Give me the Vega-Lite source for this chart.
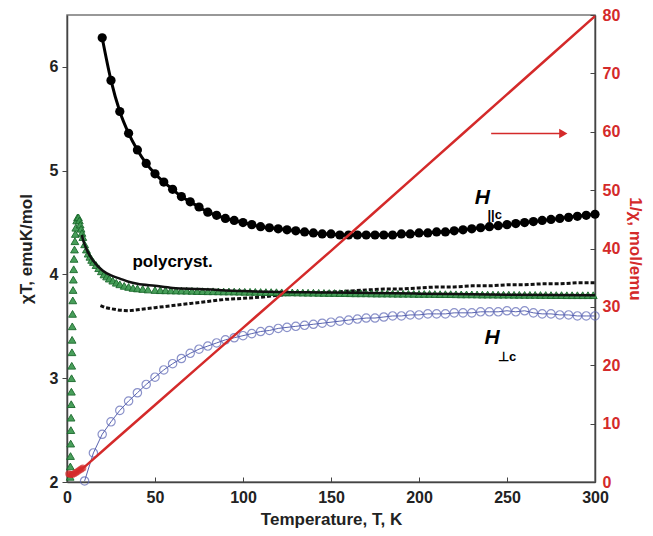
{
  "$schema": "https://vega.github.io/schema/vega-lite/v6.json",
  "width": 528,
  "height": 467,
  "autosize": "none",
  "padding": {"left": 67, "top": 15, "right": 58, "bottom": 54},
  "config": {
    "font": "Liberation Sans",
    "view": {"stroke": "#777", "strokeWidth": 1.5},
    "axis": {
      "grid": false,
      "labelFontWeight": "bold",
      "labelFontSize": 16,
      "labelColor": "#222",
      "titleFontSize": 17,
      "titleFontWeight": "bold",
      "titleColor": "#222",
      "domainColor": "#444",
      "tickColor": "#444",
      "domainWidth": 1.5
    }
  },
  "datasets": {
    "hpar": [
      {"T":20,"v":6.28},{"T":25,"v":5.87},{"T":30,"v":5.57},{"T":35,"v":5.36},{"T":40,"v":5.2},{"T":45,"v":5.07},{"T":50,"v":4.97},{"T":55,"v":4.89},{"T":60,"v":4.82},{"T":65,"v":4.75},{"T":70,"v":4.7},{"T":75,"v":4.65},{"T":80,"v":4.6},{"T":85,"v":4.57},{"T":90,"v":4.54},{"T":95,"v":4.52},{"T":100,"v":4.5},{"T":105,"v":4.48},{"T":110,"v":4.46},{"T":115,"v":4.45},{"T":120,"v":4.44},{"T":125,"v":4.43},{"T":130,"v":4.42},{"T":135,"v":4.41},{"T":140,"v":4.4},{"T":145,"v":4.39},{"T":150,"v":4.39},{"T":155,"v":4.38},{"T":160,"v":4.38},{"T":165,"v":4.38},{"T":170,"v":4.38},{"T":175,"v":4.38},{"T":180,"v":4.38},{"T":185,"v":4.38},{"T":190,"v":4.39},{"T":195,"v":4.39},{"T":200,"v":4.4},{"T":205,"v":4.4},{"T":210,"v":4.41},{"T":215,"v":4.41},{"T":220,"v":4.42},{"T":225,"v":4.43},{"T":230,"v":4.44},{"T":235,"v":4.45},{"T":240,"v":4.46},{"T":245,"v":4.47},{"T":250,"v":4.48},{"T":255,"v":4.49},{"T":260,"v":4.5},{"T":265,"v":4.51},{"T":270,"v":4.52},{"T":275,"v":4.53},{"T":280,"v":4.54},{"T":285,"v":4.55},{"T":290,"v":4.56},{"T":295,"v":4.57},{"T":300,"v":4.58}
    ],
    "hperp": [
      {"T":10,"v":2.01},{"T":15,"v":2.28},{"T":20,"v":2.46},{"T":25,"v":2.58},{"T":30,"v":2.69},{"T":35,"v":2.78},{"T":40,"v":2.86},{"T":45,"v":2.94},{"T":50,"v":3.01},{"T":55,"v":3.08},{"T":60,"v":3.14},{"T":65,"v":3.19},{"T":70,"v":3.24},{"T":75,"v":3.28},{"T":80,"v":3.31},{"T":85,"v":3.34},{"T":90,"v":3.37},{"T":95,"v":3.39},{"T":100,"v":3.41},{"T":105,"v":3.43},{"T":110,"v":3.45},{"T":115,"v":3.46},{"T":120,"v":3.48},{"T":125,"v":3.49},{"T":130,"v":3.5},{"T":135,"v":3.51},{"T":140,"v":3.52},{"T":145,"v":3.53},{"T":150,"v":3.54},{"T":155,"v":3.55},{"T":160,"v":3.56},{"T":165,"v":3.57},{"T":170,"v":3.58},{"T":175,"v":3.58},{"T":180,"v":3.59},{"T":185,"v":3.6},{"T":190,"v":3.6},{"T":195,"v":3.61},{"T":200,"v":3.61},{"T":205,"v":3.62},{"T":210,"v":3.62},{"T":215,"v":3.62},{"T":220,"v":3.63},{"T":225,"v":3.63},{"T":230,"v":3.63},{"T":235,"v":3.64},{"T":240,"v":3.64},{"T":245,"v":3.64},{"T":250,"v":3.65},{"T":255,"v":3.64},{"T":260,"v":3.65},{"T":265,"v":3.63},{"T":270,"v":3.62},{"T":275,"v":3.62},{"T":280,"v":3.61},{"T":285,"v":3.61},{"T":290,"v":3.6},{"T":295,"v":3.6},{"T":300,"v":3.6}
    ],
    "dash": [
      {"T":19,"v":3.7},{"T":22,"v":3.68},{"T":25,"v":3.67},{"T":30,"v":3.655},{"T":35,"v":3.65},{"T":40,"v":3.66},{"T":45,"v":3.67},{"T":50,"v":3.68},{"T":60,"v":3.7},{"T":70,"v":3.72},{"T":80,"v":3.74},{"T":90,"v":3.76},{"T":100,"v":3.77},{"T":110,"v":3.78},{"T":120,"v":3.8},{"T":130,"v":3.81},{"T":140,"v":3.82},{"T":150,"v":3.83},{"T":160,"v":3.84},{"T":170,"v":3.85},{"T":180,"v":3.86},{"T":190,"v":3.86},{"T":200,"v":3.87},{"T":210,"v":3.88},{"T":220,"v":3.88},{"T":230,"v":3.89},{"T":240,"v":3.89},{"T":250,"v":3.9},{"T":260,"v":3.9},{"T":270,"v":3.91},{"T":280,"v":3.91},{"T":290,"v":3.92},{"T":300,"v":3.92}
    ],
    "poly": [
      {"T":1.8,"v":2.05},{"T":1.9,"v":2.15},{"T":2.0,"v":2.25},{"T":2.1,"v":2.37},{"T":2.2,"v":2.5},{"T":2.3,"v":2.62},{"T":2.4,"v":2.75},{"T":2.5,"v":2.87},{"T":2.6,"v":3.0},{"T":2.7,"v":3.12},{"T":2.8,"v":3.25},{"T":2.9,"v":3.37},{"T":3.0,"v":3.5},{"T":3.15,"v":3.62},{"T":3.3,"v":3.75},{"T":3.45,"v":3.85},{"T":3.6,"v":3.95},{"T":3.8,"v":4.05},{"T":4.0,"v":4.15},{"T":4.25,"v":4.24},{"T":4.5,"v":4.32},{"T":4.75,"v":4.39},{"T":5.0,"v":4.45},{"T":5.5,"v":4.52},{"T":6.0,"v":4.55},{"T":6.5,"v":4.55},{"T":7.0,"v":4.52},{"T":7.5,"v":4.48},{"T":8,"v":4.44},{"T":8.5,"v":4.4},{"T":9,"v":4.36},{"T":10,"v":4.29},{"T":11,"v":4.24},{"T":12,"v":4.2},{"T":13,"v":4.17},{"T":14,"v":4.14},{"T":15,"v":4.12},{"T":16.5,"v":4.09},{"T":18,"v":4.06},{"T":19.5,"v":4.03},{"T":21,"v":4.0},{"T":22.5,"v":3.98},{"T":24,"v":3.96},{"T":26,"v":3.94},{"T":28,"v":3.92},{"T":30,"v":3.905},{"T":32.5,"v":3.89},{"T":35,"v":3.88},{"T":37.5,"v":3.87},{"T":40,"v":3.865},{"T":43,"v":3.86},{"T":46,"v":3.855},{"T":50,"v":3.85},
      {"T":53,"v":3.848},{"T":56,"v":3.847},{"T":59,"v":3.846},{"T":62,"v":3.845},{"T":65,"v":3.844},{"T":68,"v":3.843},{"T":71,"v":3.842},{"T":74,"v":3.84},{"T":77,"v":3.839},{"T":80,"v":3.838},{"T":83,"v":3.838},{"T":86,"v":3.837},{"T":89,"v":3.836},{"T":92,"v":3.836},{"T":95,"v":3.835},{"T":98,"v":3.834},{"T":101,"v":3.833},{"T":104,"v":3.833},{"T":107,"v":3.832},{"T":110,"v":3.831},{"T":113,"v":3.83},{"T":116,"v":3.83},{"T":119,"v":3.829},{"T":122,"v":3.828},{"T":125,"v":3.827},{"T":128,"v":3.827},{"T":131,"v":3.826},{"T":134,"v":3.825},{"T":137,"v":3.824},{"T":140,"v":3.824},{"T":143,"v":3.823},{"T":146,"v":3.822},{"T":149,"v":3.821},{"T":152,"v":3.821},{"T":155,"v":3.82},{"T":158,"v":3.82},{"T":161,"v":3.819},{"T":164,"v":3.818},{"T":167,"v":3.818},{"T":170,"v":3.818},{"T":173,"v":3.817},{"T":176,"v":3.816},{"T":179,"v":3.816},{"T":182,"v":3.816},{"T":185,"v":3.815},{"T":188,"v":3.814},{"T":191,"v":3.814},{"T":194,"v":3.814},{"T":197,"v":3.813},{"T":200,"v":3.812},{"T":203,"v":3.812},{"T":206,"v":3.812},{"T":209,"v":3.811},{"T":212,"v":3.81},{"T":215,"v":3.81},{"T":218,"v":3.81},{"T":221,"v":3.809},{"T":224,"v":3.808},{"T":227,"v":3.808},{"T":230,"v":3.808},{"T":233,"v":3.807},{"T":236,"v":3.806},{"T":239,"v":3.806},{"T":242,"v":3.806},{"T":245,"v":3.805},{"T":248,"v":3.805},{"T":251,"v":3.805},{"T":254,"v":3.804},{"T":257,"v":3.804},{"T":260,"v":3.803},{"T":263,"v":3.803},{"T":266,"v":3.803},{"T":269,"v":3.802},{"T":272,"v":3.802},{"T":275,"v":3.801},{"T":278,"v":3.801},{"T":281,"v":3.801},{"T":284,"v":3.8},{"T":287,"v":3.8},{"T":290,"v":3.8},{"T":293,"v":3.8},{"T":296,"v":3.8},{"T":299,"v":3.8}
    ],
    "polyfit": [
      {"T":8.5,"v":4.38},{"T":9,"v":4.34},{"T":10,"v":4.29},{"T":12,"v":4.21},{"T":15,"v":4.13},{"T":20,"v":4.04},{"T":25,"v":3.99},{"T":30,"v":3.96},{"T":35,"v":3.93},{"T":40,"v":3.91},{"T":50,"v":3.89},{"T":60,"v":3.87},{"T":75,"v":3.86},{"T":100,"v":3.84},{"T":150,"v":3.825},{"T":200,"v":3.815},{"T":250,"v":3.805},{"T":300,"v":3.8}
    ],
    "inv": [
      {"T":0,"v":1.0},{"T":2,"v":1.2},{"T":5,"v":1.6},{"T":10,"v":2.6},{"T":25,"v":6.6},{"T":50,"v":13.2},{"T":75,"v":19.8},{"T":100,"v":26.4},{"T":125,"v":33.0},{"T":150,"v":39.6},{"T":175,"v":46.3},{"T":200,"v":53.0},{"T":225,"v":59.7},{"T":250,"v":66.4},{"T":275,"v":73.1},{"T":300,"v":79.8}
    ],
    "invpts": [
      {"T":1,"v":1.4},{"T":2,"v":1.3},{"T":3,"v":1.3},{"T":4,"v":1.4},{"T":5,"v":1.6},{"T":6,"v":1.8},{"T":7,"v":2.0},{"T":8,"v":2.2},{"T":9,"v":2.4}
    ],
    "arrow": [{"T":241,"T2":281,"v":59.7}],
    "arrowhead": [{"T":282,"v":59.7}],
    "labelsBig": [
      {"T":236,"v":4.74,"label":"H"},
      {"T":241.5,"v":3.39,"label":"H"}
    ],
    "labelsSub": [
      {"T":243,"v":4.57,"label":"||c"},
      {"T":250,"v":3.2,"label":"⊥c"}
    ],
    "labelsPoly": [
      {"T":60,"v":4.12,"label":"polycryst."}
    ]
  },
  "layer": [
    {
      "encoding": {
        "x": {"field": "T", "type": "quantitative", "scale": {"domain": [0, 300], "nice": false},
              "axis": {"values": [0,50,100,150,200,250,300], "title": "Temperature, T, K", "tickSize": -5, "labelPadding": 12, "titlePadding": 6, "labelFlush": false}},
        "y": {"field": "v", "type": "quantitative", "scale": {"domain": [2, 6.5], "nice": false},
              "axis": {"values": [2,3,4,5,6], "title": "χT, emuK/mol", "tickSize": 5, "labelPadding": 4, "titlePadding": 14, "labelFlush": false}}
      },
      "layer": [
        {"data": {"name": "hperp"}, "mark": {"type": "line", "color": "#5a64b0", "strokeWidth": 1}},
        {"data": {"name": "hperp"}, "mark": {"type": "point", "shape": "circle", "filled": false, "stroke": "#5a64b4", "strokeWidth": 1.2, "size": 70}},
        {"data": {"name": "dash"}, "mark": {"type": "line", "color": "#111", "strokeWidth": 3, "strokeDash": [4, 2]}},
        {"data": {"name": "poly"}, "mark": {"type": "point", "shape": "triangle-up", "filled": true, "fill": "#3f9a52", "stroke": "#1a6a2c", "strokeWidth": 1, "size": 60, "opacity": 0.95}},
        {"data": {"name": "polyfit"}, "mark": {"type": "line", "color": "#111", "strokeWidth": 2.5, "interpolate": "monotone"}},
        {"data": {"name": "hpar"}, "mark": {"type": "line", "color": "#000", "strokeWidth": 3, "interpolate": "monotone"}},
        {"data": {"name": "hpar"}, "mark": {"type": "point", "shape": "circle", "filled": true, "color": "#000", "size": 85, "opacity": 1}},
        {"data": {"name": "labelsBig"}, "mark": {"type": "text", "fontSize": 21, "fontWeight": "bold", "fontStyle": "italic", "color": "#000"}, "encoding": {"text": {"field": "label"}}},
        {"data": {"name": "labelsSub"}, "mark": {"type": "text", "fontSize": 13, "fontWeight": "bold", "color": "#000"}, "encoding": {"text": {"field": "label"}}},
        {"data": {"name": "labelsPoly"}, "mark": {"type": "text", "fontSize": 17, "fontWeight": "bold", "color": "#000"}, "encoding": {"text": {"field": "label"}}}
      ]
    },
    {
      "encoding": {
        "x": {"field": "T", "type": "quantitative", "scale": {"domain": [0, 300], "nice": false},
              "axis": {"values": [0,50,100,150,200,250,300], "title": "Temperature, T, K", "tickSize": -5, "labelPadding": 12, "titlePadding": 6, "labelFlush": false}},
        "y": {"field": "v", "type": "quantitative", "scale": {"domain": [0, 80], "nice": false},
              "axis": {"orient": "right", "values": [0,10,20,30,40,50,60,70,80], "title": "1/χ, mol/emu", "titleColor": "#d42a2a", "labelColor": "#d42a2a", "tickSize": -5, "labelPadding": 12, "titlePadding": 6, "labelFlush": false}}
      },
      "layer": [
        {"data": {"name": "invpts"}, "mark": {"type": "point", "shape": "circle", "filled": true, "color": "#d42a2a", "size": 50}},
        {"data": {"name": "inv"}, "mark": {"type": "line", "color": "#d42a2a", "strokeWidth": 2.5}},
        {"data": {"name": "arrow"}, "mark": {"type": "rule", "color": "#d42a2a", "strokeWidth": 1.5}, "encoding": {"x2": {"field": "T2"}}},
        {"data": {"name": "arrowhead"}, "mark": {"type": "point", "shape": "triangle-right", "filled": true, "color": "#d42a2a", "size": 90, "opacity": 1}}
      ]
    }
  ],
  "resolve": {"scale": {"y": "independent"}}
}
